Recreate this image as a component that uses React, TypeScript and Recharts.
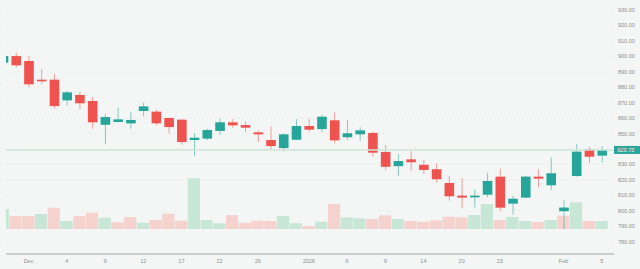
import React from "react";
import { ComposedChart, Bar, XAxis, YAxis, CartesianGrid, ReferenceLine, Cell } from "recharts";

const UP = "#26a69a";
const DOWN = "#ef5350";
const UP_VOL = "#c8e6d5";
const DOWN_VOL = "#f6d2cf";

// daily candles, Nov 28 .. Feb 5
const opens = [
  895.9, 900.2, 897.0, 884.9, 884.9, 871.5, 875.0, 871.1, 855.7, 857.5,
  856.6, 864.6, 864.2, 860.1, 859.0, 845.8, 846.7, 851.7, 857.3, 855.5,
  850.8, 845.8, 840.6, 846.0, 854.9, 852.9, 858.6, 847.6, 849.5, 850.4,
  838.1, 828.9, 833.3, 829.8, 826.9, 818.0, 809.8, 808.7, 810.4, 822.1,
  804.6, 808.5, 822.1, 816.5, 799.7, 822.5, 839.8, 835.7,
];
const highs = [
  901.0, 902.4, 900.2, 891.8, 888.6, 877.6, 877.1, 873.9, 862.7, 866.7,
  864.2, 870.0, 865.7, 860.3, 859.2, 850.2, 853.1, 859.9, 859.4, 857.9,
  851.8, 854.7, 850.2, 859.4, 859.4, 862.2, 863.8, 858.8, 854.2, 851.2,
  842.6, 836.8, 838.5, 832.9, 830.7, 822.5, 821.2, 813.9, 824.7, 827.2,
  809.8, 822.5, 827.0, 834.6, 807.0, 843.2, 841.5, 841.9,
];
const lows = [
  895.0, 892.9, 880.0, 881.9, 866.1, 868.3, 865.7, 853.1, 843.2, 857.2,
  853.1, 861.2, 855.3, 849.9, 842.8, 835.5, 845.8, 849.1, 853.8, 851.0,
  844.5, 839.8, 838.3, 845.8, 851.2, 850.8, 843.7, 845.8, 845.2, 835.0,
  826.4, 822.7, 825.8, 823.8, 818.4, 806.5, 801.6, 802.2, 808.7, 799.7,
  797.3, 808.2, 815.2, 813.3, 788.2, 822.1, 830.7, 831.1,
];
const closes = [
  900.2, 894.2, 881.9, 883.8, 867.8, 876.7, 869.6, 857.3, 860.7, 859.2,
  858.8, 867.6, 856.6, 854.2, 844.5, 847.3, 852.3, 857.3, 855.3, 853.8,
  849.5, 841.9, 849.5, 854.9, 852.5, 860.9, 845.6, 850.2, 852.1, 837.6,
  828.5, 832.2, 831.4, 826.4, 820.4, 809.4, 808.5, 809.8, 819.3, 802.0,
  807.8, 822.1, 820.8, 824.3, 802.1, 838.3, 835.0, 839.4,
];
// volume, thousands
const volumes = [
  400, 260, 260, 300, 426, 160, 260, 326, 226, 134,
  240, 126, 180, 306, 166, 1014, 180, 114, 280, 126,
  166, 160, 260, 114, 60, 146, 500, 234, 214, 200,
  274, 200, 160, 146, 174, 246, 234, 280, 500, 180,
  240, 160, 140, 180, 266, 534, 160, 160,
];

const tickIndex = [2, 5, 8, 11, 14, 17, 20, 24, 27, 30, 33, 36, 39, 44, 47];
const tickLabels = ["Dec", "4", "9", "12", "17", "22", "26", "2026", "6", "9", "14", "20", "23", "Feb", "5"];
const priceTicks = [780, 790, 800, 810, 820, 830, 840, 850, 860, 870, 880, 890, 900, 910, 920, 930];
const lastPriceLabel = "829.75";

const data = opens.map((o, i) => ({
  i,
  open: o,
  high: highs[i],
  low: lows[i],
  close: closes[i],
  range: [lows[i], highs[i]],
  volume: volumes[i],
  volUp: i === 0 ? closes[i] >= o : closes[i] >= closes[i - 1],
}));

const X_DOMAIN = [0.23, 47.96];

const Candle = (props: any) => {
  const { x, y, width, height, payload } = props;
  if (x == null || y == null) return null;
  const { open, close, high, low } = payload;
  const color = close >= open ? UP : DOWN;
  const top = Math.min(y, y + height);
  const h = Math.abs(height);
  const k = high === low ? 0 : h / (high - low);
  const bodyTop = top + (high - Math.max(open, close)) * k;
  const bodyH = Math.max(1.5, Math.abs(open - close) * k);
  const cx = x + width / 2;
  return (
    <g>
      <line x1={cx} x2={cx} y1={top} y2={top + h} stroke={color} strokeOpacity={0.55} strokeWidth={1} />
      <rect x={x} y={bodyTop} width={width} height={bodyH} fill={color} />
    </g>
  );
};

const PriceTag = (props: any) => {
  const { viewBox } = props;
  if (!viewBox) return null;
  const right = viewBox.x + viewBox.width;
  const cy = viewBox.y;
  return (
    <g>
      <rect x={right} y={cy - 4} width={26} height={8} fill={UP} />
      <text x={right + 3.5} y={cy} dy="0.35em" fontSize={5.5} fill="#ffffff" fontFamily="Liberation Sans, Arial, sans-serif">
        {lastPriceLabel}
      </text>
    </g>
  );
};

const tickStyle = { fontSize: 5.5, fill: "#8b908d", fontFamily: "Liberation Sans, Arial, sans-serif" };

export default function App() {
  return (
    <div style={{ position: "absolute", left: 0, top: 0, width: 640, height: 269, background: "#f3f6f4" }}>
      <ComposedChart width={640} height={269} data={data} margin={{ top: 0, right: 0, left: 6, bottom: 0 }}>
        <CartesianGrid xAxisId="p" yAxisId="price" vertical={false} stroke="#ebefec" strokeDasharray="2 2" />
        <XAxis
          xAxisId="p"
          dataKey="i"
          type="number"
          domain={X_DOMAIN}
          allowDataOverflow
          ticks={tickIndex}
          interval={0}
          tickFormatter={(v: number) => tickLabels[tickIndex.indexOf(v)] ?? ""}
          height={15}
          tickLine={false}
          tickSize={0}
          tickMargin={5}
          axisLine={{ stroke: "#bfc3c0", strokeWidth: 1.5 }}
          tick={tickStyle}
        />
        <XAxis xAxisId="v" dataKey="i" type="number" domain={X_DOMAIN} allowDataOverflow hide />
        <YAxis
          yAxisId="price"
          orientation="right"
          domain={[772, 936.5]}
          allowDataOverflow
          ticks={priceTicks}
          interval={0}
          width={26}
          axisLine={false}
          tickLine={false}
          tickSize={0}
          tickMargin={4}
          tickFormatter={(v: number) => v.toFixed(2)}
          tick={tickStyle}
        />
        <YAxis yAxisId="vol" domain={[-500, 4580]} allowDataOverflow hide />
        <Bar xAxisId="v" yAxisId="vol" dataKey="volume" barSize={12.2} isAnimationActive={false}>
          {data.map((d) => (
            <Cell key={d.i} fill={d.volUp ? UP_VOL : DOWN_VOL} />
          ))}
        </Bar>
        <ReferenceLine
          xAxisId="p"
          yAxisId="price"
          y={closes[closes.length - 1]}
          stroke="#cfe5d8"
          strokeWidth={1.5}
          label={<PriceTag />}
        />
        <Bar
          xAxisId="p"
          yAxisId="price"
          dataKey="range"
          barSize={9.6}
          shape={(p: any) => <Candle {...p} />}
          isAnimationActive={false}
        />
      </ComposedChart>
    </div>
  );
}
